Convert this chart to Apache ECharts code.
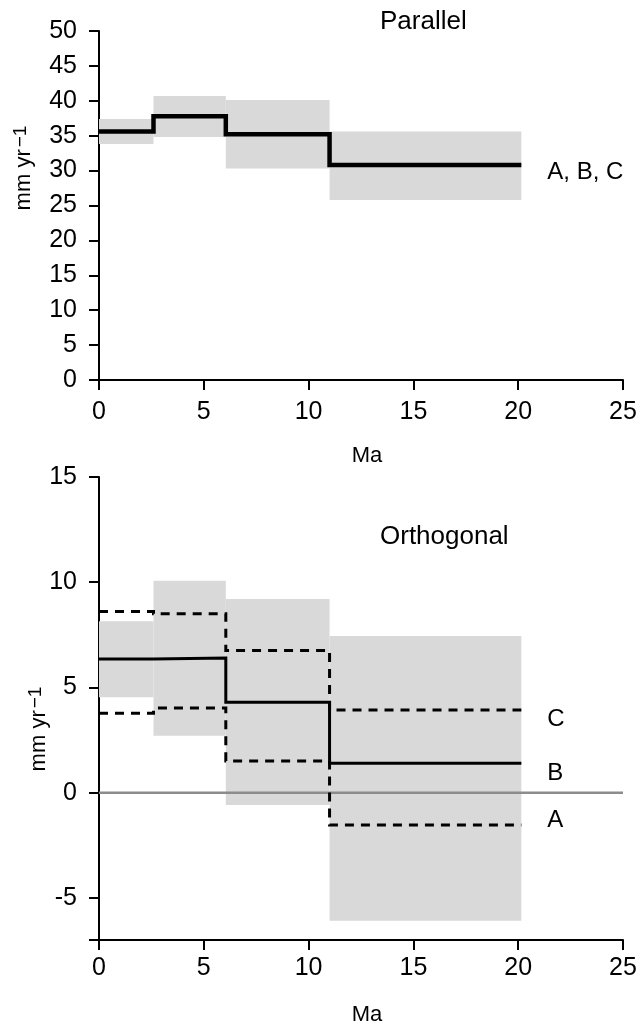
<!DOCTYPE html>
<html>
<head>
<meta charset="utf-8">
<script src="https://cdn.jsdelivr.net/npm/echarts@6/dist/echarts.min.js"></script>
<style>
html,body{margin:0;padding:0;background:#fff;}
#chart{width:637px;height:1027px;}
</style>
</head>
<body>
<div id="chart"></div>
<script>
// ---- data ----
const breaks = [0, 2.6, 6.05, 11.0, 20.15];          // Ma boundaries of the intervals
const parallelRate = [35.6, 37.8, 35.2, 30.8];        // A, B, C (identical)
const parallelLow  = [33.8, 34.8, 30.3, 25.8];
const parallelHigh = [37.4, 40.7, 40.1, 35.6];
const orthoA = [3.78, 4.02, 1.51, -1.54];
const orthoB = [6.35, 6.40, 4.30, 1.40];
const orthoC = [8.61, 8.50, 6.76, 3.93];
const orthoLow  = [4.54, 2.71, -0.59, -6.09];
const orthoHigh = [8.14, 10.07, 9.20, 7.45];
const zeroLine = [[0, 0], [25, 0]];
const xTicks = [0, 5, 10, 15, 20, 25];

const FONT = '"Liberation Sans", Arial, Helvetica, sans-serif';

function stepPoints(vals) {
  const pts = [];
  for (let i = 0; i < vals.length; i++) {
    pts.push([breaks[i], vals[i]]);
    pts.push([breaks[i + 1], vals[i]]);
  }
  return pts;
}
function boxes(lo, hi) {
  return lo.map((l, i) => [breaks[i], breaks[i + 1], l, hi[i]]);
}
function renderBox(params, api) {
  const p1 = api.coord([api.value(0), api.value(3)]);
  const p2 = api.coord([api.value(1), api.value(2)]);
  return {
    type: 'rect',
    shape: { x: p1[0], y: p1[1], width: p2[0] - p1[0], height: p2[1] - p1[1] },
    style: { fill: '#d9d9d9' }
  };
}

const TICK_FS = 25;
const axisCommon = {
  axisLine: { show: true, onZero: false, lineStyle: { color: '#000', width: 2 } },
  axisTick: { show: true, inside: false, length: 10, lineStyle: { color: '#000', width: 2 } },
  splitLine: { show: false },
  axisLabel: { color: '#000', fontSize: TICK_FS, fontFamily: FONT }
};

const chart = echarts.init(document.getElementById('chart'), null, { renderer: 'canvas' });
chart.setOption({
  backgroundColor: '#fff',
  animation: false,
  textStyle: { fontFamily: FONT },
  grid: [
    { left: 99, top: 31, width: 524, height: 349, containLabel: false, outerBoundsMode: 'none' },
    { left: 99, top: 477, width: 524, height: 463, containLabel: false, outerBoundsMode: 'none' }
  ],
  xAxis: [
    Object.assign({}, axisCommon, { gridIndex: 0, type: 'value', min: xTicks[0], max: xTicks[xTicks.length - 1], interval: 5,
      axisLabel: Object.assign({}, axisCommon.axisLabel, { margin: 20 }) }),
    Object.assign({}, axisCommon, { gridIndex: 1, type: 'value', min: xTicks[0], max: xTicks[xTicks.length - 1], interval: 5,
      axisLabel: Object.assign({}, axisCommon.axisLabel, { margin: 16 }) })
  ],
  yAxis: [
    Object.assign({}, axisCommon, { gridIndex: 0, type: 'value', min: 0, max: 50, interval: 5,
      axisLabel: Object.assign({}, axisCommon.axisLabel, { margin: 22 }) }),
    Object.assign({}, axisCommon, { gridIndex: 1, type: 'value', min: -7, max: 15, splitNumber: 5,
      axisLabel: Object.assign({}, axisCommon.axisLabel, { margin: 22,
        formatter: v => (Math.abs(v % 5) < 1e-9 ? String(v) : '') }) })
  ],
  series: [
    { type: 'custom', xAxisIndex: 0, yAxisIndex: 0, renderItem: renderBox, data: boxes(parallelLow, parallelHigh), z: 1, silent: true },
    { type: 'line', name: 'A, B, C', xAxisIndex: 0, yAxisIndex: 0, data: stepPoints(parallelRate), showSymbol: false, z: 5,
      lineStyle: { color: '#000', width: 4.5, cap: 'butt', join: 'miter' },
      endLabel: { show: true, formatter: 'A, B, C', color: '#000', fontSize: 24, fontFamily: FONT, distance: 26, offset: [0, 7] } },

    { type: 'custom', xAxisIndex: 1, yAxisIndex: 1, renderItem: renderBox, data: boxes(orthoLow, orthoHigh), z: 1, silent: true },
    { type: 'line', xAxisIndex: 1, yAxisIndex: 1, data: zeroLine, showSymbol: false, z: 2,
      lineStyle: { color: '#8c8c8c', width: 2.5 } },
    { type: 'line', name: 'C', xAxisIndex: 1, yAxisIndex: 1, data: stepPoints(orthoC), showSymbol: false, z: 5,
      lineStyle: { color: '#000', width: 3, type: [9, 7], cap: 'butt', join: 'miter' },
      endLabel: { show: true, formatter: 'C', color: '#000', fontSize: 24, fontFamily: FONT, distance: 26, offset: [0, 9] } },
    { type: 'line', name: 'B', xAxisIndex: 1, yAxisIndex: 1, data: stepPoints(orthoB), showSymbol: false, z: 6,
      lineStyle: { color: '#000', width: 3, cap: 'butt', join: 'miter' },
      endLabel: { show: true, formatter: 'B', color: '#000', fontSize: 24, fontFamily: FONT, distance: 26, offset: [0, 10] } },
    { type: 'line', name: 'A', xAxisIndex: 1, yAxisIndex: 1, data: stepPoints(orthoA), showSymbol: false, z: 5,
      lineStyle: { color: '#000', width: 3, type: [9, 7], cap: 'butt', join: 'miter' },
      endLabel: { show: true, formatter: 'A', color: '#000', fontSize: 24, fontFamily: FONT, distance: 26, offset: [0, -5] } }
  ],
  graphic: [
    { type: 'text', left: 380, top: 9, style: { text: 'Parallel', fill: '#000', font: '26px ' + FONT } },
    { type: 'text', left: 380, top: 524, style: { text: 'Orthogonal', fill: '#000', font: '26px ' + FONT } },
    { type: 'text', x: 367, y: 456, style: { text: 'Ma', fill: '#000', font: '22px ' + FONT, align: 'center', verticalAlign: 'middle' } },
    { type: 'text', x: 367, y: 1015, style: { text: 'Ma', fill: '#000', font: '22px ' + FONT, align: 'center', verticalAlign: 'middle' } },
    { type: 'text', x: 24, y: 168, rotation: Math.PI / 2,
      style: { text: '{a|mm yr}{s|\u22121}', align: 'center', verticalAlign: 'middle', fill: '#000',
        rich: { a: { fontSize: 22, fontFamily: FONT, fill: '#000' }, s: { fontSize: 19, fontFamily: FONT, fill: '#000', padding: [0, 0, 6, 2] } } } },
    { type: 'text', x: 39, y: 729, rotation: Math.PI / 2,
      style: { text: '{a|mm yr}{s|\u22121}', align: 'center', verticalAlign: 'middle', fill: '#000',
        rich: { a: { fontSize: 22, fontFamily: FONT, fill: '#000' }, s: { fontSize: 19, fontFamily: FONT, fill: '#000', padding: [0, 0, 6, 2] } } } }
  ]
});
</script>
</body>
</html>
